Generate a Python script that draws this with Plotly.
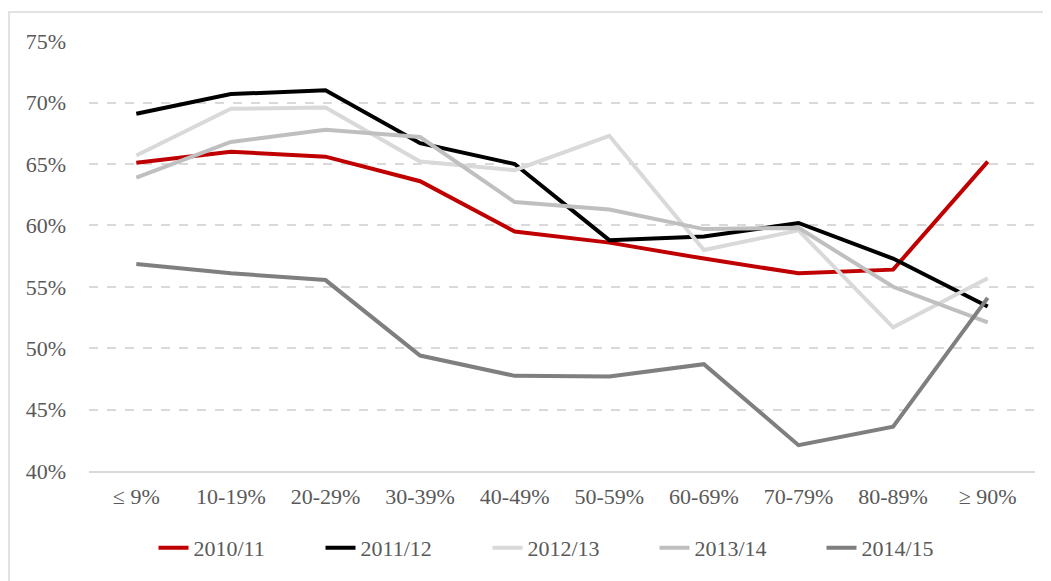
import plotly.graph_objects as go

categories = ["≤ 9%", "10-19%", "20-29%", "30-39%", "40-49%", "50-59%",
              "60-69%", "70-79%", "80-89%", "≥ 90%"]
s_2010_11 = [65.1, 66.0, 65.6, 63.6, 59.5, 58.6, 57.3, 56.1, 56.4, 65.2]
s_2011_12 = [69.1, 70.7, 71.0, 66.7, 65.0, 58.8, 59.1, 60.2, 57.3, 53.4]
s_2012_13 = [65.7, 69.5, 69.6, 65.2, 64.5, 67.3, 58.0, 59.6, 51.7, 55.7]
s_2013_14 = [63.9, 66.8, 67.8, 67.2, 61.9, 61.3, 59.7, 59.8, 55.0, 52.1]
s_2014_15 = [56.85, 56.1, 55.55, 49.4, 47.75, 47.7, 48.7, 42.1, 43.6, 54.1]
y_ticks = [40, 45, 50, 55, 60, 65, 70, 75]
y_labels = [f"{v}%" for v in y_ticks]

series = [
    ("2010/11", s_2010_11, "#c00000"),
    ("2011/12", s_2011_12, "#000000"),
    ("2012/13", s_2012_13, "#d9d9d9"),
    ("2013/14", s_2013_14, "#bfbfbf"),
    ("2014/15", s_2014_15, "#7f7f7f"),
]

fig = go.Figure()
for name, vals, col in series:
    fig.add_trace(go.Scatter(x=categories, y=vals, name=name, mode="lines",
                             line=dict(color=col, width=4)))

font = dict(family="Liberation Serif", size=22, color="#595959")
W, H = 1051, 581
OFF = 8  # page body margin
L, R, T, B = 89 - OFF, W - (1035 - OFF), 41 - OFF, H - (471 - OFF)
pw, ph = W - L - R, H - T - B

fig.update_layout(
    width=W, height=H,
    margin=dict(l=L, r=R, t=T, b=B),
    paper_bgcolor="white", plot_bgcolor="white",
    font=font,
    showlegend=True,
    legend=dict(orientation="h", x=(563 - L) / pw, xanchor="center",
                y=(ph - (540 - T)) / ph, yanchor="middle",
                bgcolor="rgba(0,0,0,0)",
                font=font, entrywidth=122, entrywidthmode="pixels",
                tracegroupgap=0),
    xaxis=dict(range=[-0.5, 9.5], showgrid=False, showline=True,
               linecolor="#d9d9d9", linewidth=1.5,
               ticks="", ticklabelstandoff=5, tickfont=font),
    yaxis=dict(range=[40, 75.02], tickmode="array", tickvals=y_ticks,
               ticktext=y_labels, showgrid=True, gridcolor="#d9d9d9",
               gridwidth=1.5, griddash="dash", zeroline=False, showline=False,
               ticks="", ticklabelstandoff=22, tickfont=font),
    shapes=[dict(type="rect", xref="paper", yref="paper",
                 x0=(9 - OFF - L) / pw, x1=(W + 5 - L) / pw,
                 y0=(ph + T - (H + 5)) / ph, y1=(ph + T - (12 - OFF)) / ph,
                 line=dict(color="#d9d9d9", width=1.5), fillcolor="rgba(0,0,0,0)",
                 layer="below")],
)

fig.write_html("out.html")
